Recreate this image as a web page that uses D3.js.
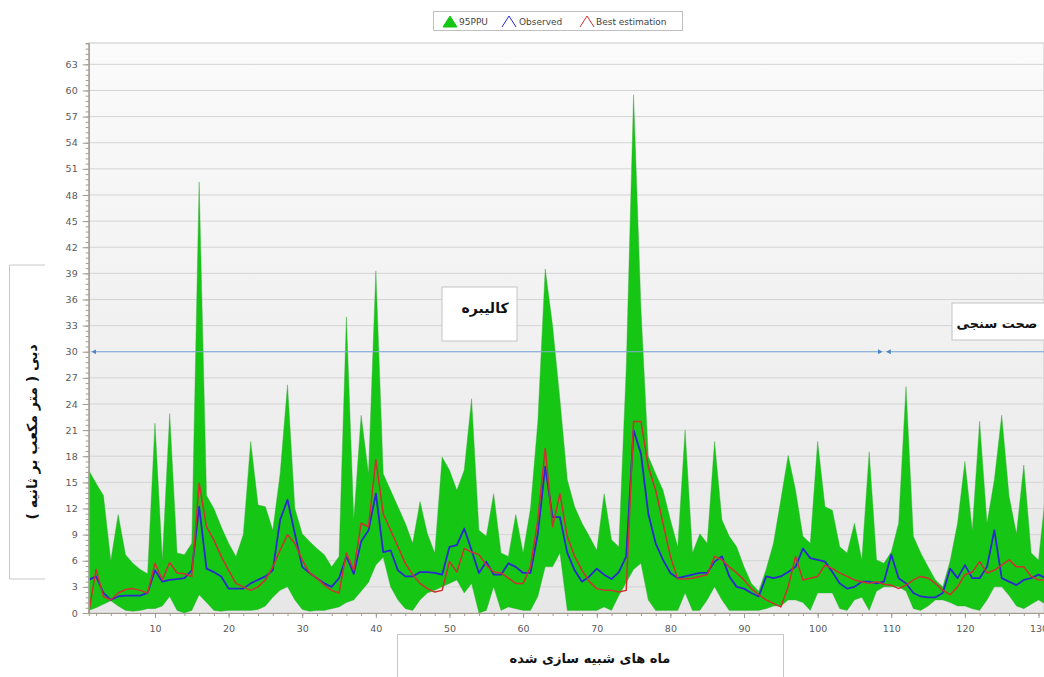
<!DOCTYPE html>
<html>
<head>
<meta charset="utf-8">
<script src="https://cdn.jsdelivr.net/npm/d3@7"></script>
<style>
    body { margin: 0; background: #fff; }
    .tick text { font-family: "DejaVu Sans", sans-serif; font-size: 9.5px; fill: #5a5a5a; }
    .fa { font-family: "DejaVu Sans", sans-serif; font-weight: bold; fill: #111; }
    .legend text { font-family: "DejaVu Sans", sans-serif; font-size: 9px; fill: #444; }
</style>
</head>
<body>
<div id="chart"></div>
<script>
// 95PPU band, upper and lower edge (m3/s), one value per simulated month 1..131
const upper95 = [16.4, 14.9, 13.5, 6, 11.3, 6.7, 5.7, 5, 4.5, 21.8,
    6.1, 22.9, 6.9, 6.7, 8, 49.5, 13.5, 12, 9.9, 8,
    6.5, 9, 19.7, 12.4, 12.2, 9.5, 16, 26.2, 12, 9.1,
    8.2, 7.4, 6.7, 5.3, 6.5, 34, 10.7, 22.7, 16, 39.3,
    16, 14.1, 12.2, 10.3, 8, 12.8, 9.1, 6.9, 17.9, 16.4,
    14.1, 16.4, 24.6, 9.5, 8.8, 13.7, 6.9, 6.5, 11.3, 6.9,
    12, 22, 39.5, 33, 24.5, 15.3, 12.2, 10.3, 8.8, 7.2,
    13.7, 8.4, 7.6, 28, 59.5, 35, 18, 16, 14.1, 10.7,
    7.6, 21, 6.9, 9.1, 8, 19.7, 10.7, 8.8, 7.6, 5.3,
    3.4, 2.5, 5, 8, 13, 18.1, 14.1, 8.8, 8, 19.7,
    12.2, 11.8, 7.6, 6.9, 10.3, 6.1, 18.5, 6.1, 5.7, 7,
    10.3, 26, 8.8, 6.9, 5.3, 3.8, 3, 6, 10.3, 17.4,
    9.5, 22, 10.3, 15.3, 22.7, 13.4, 9.1, 17, 6.9, 6.1,
    14.1];
const lower95 = [0.3, 0.6, 1, 1.4, 0.8, 0.3, 0.2, 0.3, 0.5, 0.5,
    0.8, 1.9, 0.3, 0, 0.3, 2.1, 1.2, 0.3, 0.2, 0.3,
    0.3, 0.3, 0.3, 0.4, 0.8, 1.8, 2.6, 3, 1.5, 0.4,
    0.2, 0.3, 0.3, 0.5, 0.7, 1.2, 1.5, 2.5, 3.5, 5.5,
    6.4, 3, 1.5, 0.5, 0.3, 1.5, 2.3, 2.6, 3, 3.4,
    3.8, 2.3, 3.4, 0, 0.3, 3, 0.3, 0.7, 0.5, 0.3,
    0.3, 1.9, 5.3, 5.3, 6.9, 0.3, 0.3, 0.3, 0.3, 0.3,
    0.7, 0.3, 2, 3.5, 5, 5.7, 1.5, 0.3, 0.3, 0.3,
    0.3, 2.3, 0.3, 0.3, 1.5, 3, 1.5, 0.3, 0.3, 0.3,
    0.3, 0.3, 0.5, 0.8, 0.8, 1.5, 1.5, 1.2, 0.3, 2.3,
    2.3, 2.3, 0.5, 0.3, 1.5, 1.8, 0.3, 2.5, 3, 3,
    3, 2.5, 0.5, 0.3, 0.8, 1.5, 1.5, 1.2, 0.8, 0.8,
    0.5, 0.3, 1.5, 3, 3, 2, 0.8, 0.5, 1, 1.5,
    1];
const observed = [3.8, 4.2, 2.3, 1.5, 1.9, 2, 2, 2, 2.3, 4.9,
    3.6, 3.8, 3.9, 4, 4.9, 12.2, 5.1, 4.7, 4.2, 2.8,
    2.8, 2.8, 3.4, 3.8, 4.2, 4.9, 10.7, 13, 9.1, 5.3,
    4.6, 4, 3.4, 3, 4, 6.5, 4.5, 8.2, 9.5, 13.7,
    7, 7.2, 4.9, 4.2, 4.2, 4.7, 4.7, 4.6, 4.4, 7.6,
    7.8, 9.7, 7.2, 4.6, 5.9, 4.4, 4.4, 5.7, 5.3, 4.6,
    4.6, 9.1, 16.8, 11, 11, 6.9, 4.9, 3.6, 4.2, 5.1,
    4.4, 3.9, 4.7, 6.5, 21, 18.3, 11.4, 8, 6.1, 4.6,
    4, 4.2, 4.4, 4.6, 4.6, 5.9, 6.5, 4.2, 3, 2.8,
    2.3, 1.9, 4.2, 4, 4.2, 4.7, 5.3, 7.4, 6.3, 6.1,
    5.9, 4.7, 3.4, 2.8, 3, 3.6, 3.6, 3.4, 3.6, 6.7,
    4, 3.4, 2.3, 1.9, 1.8, 1.8, 2.3, 5.1, 4, 5.5,
    4, 4, 5.3, 9.5, 4, 3.6, 3.2, 3.8, 4, 4.4,
    4];
const bestEstimation = [0, 5, 1.9, 1.5, 2.3, 2.7, 2.8, 2.6, 2.3, 5.7,
    3.8, 5.8, 4.6, 4.5, 4.2, 14.9, 9.9, 8.4, 6.5, 4.9,
    3.4, 3, 2.6, 3, 3.8, 5.3, 7.2, 9, 8, 6.1,
    4.6, 4, 3.2, 2.6, 2.3, 6.9, 4.9, 10.3, 9.9, 17.6,
    11.4, 9.5, 7.6, 5.7, 4.4, 3.4, 2.8, 2.4, 2.6, 5.9,
    4.7, 7.4, 7, 6.7, 5.5, 4.7, 4.6, 4, 3.4, 3.4,
    5.3, 10.7, 18.9, 9.9, 13.7, 8.8, 6.5, 4.9, 3.6, 2.8,
    2.6, 2.6, 2.4, 2.6, 22, 22, 16.8, 14.1, 10.3, 6.5,
    3.9, 3.9, 4, 4.2, 4.4, 6.5, 6.1, 5.3, 4.6, 3.8,
    2.8, 2.1, 1.5, 1.1, 0.7, 3, 6.5, 3.8, 4, 4.2,
    5.5, 5.1, 4.6, 4.2, 3.8, 3.6, 3.4, 3.6, 3.3, 3.2,
    2.8, 3.2, 3.8, 4.2, 4, 3.4, 2.6, 2.1, 3, 4.4,
    4.7, 5.9, 4.6, 4.9, 5.5, 6.1, 5.3, 5.3, 4.2, 3.8,
    3.8];

const yTickValues = [0, 3, 6, 9, 12, 15, 18, 21, 24, 27, 30, 33, 36, 39, 42, 45, 48, 51, 54, 57, 60, 63];
const xTickValues = [10, 20, 30, 40, 50, 60, 70, 80, 90, 100, 110, 120, 130];
const legendLabels = ["95PPU", "Observed", "Best estimation"];
const legendColors = ["#15c615", "#2a2ad0", "#d03030"];

// split between calibration and validation periods, drawn at 30 m3/s
const periodLevel = 30;
const calibrationEnd = 108.5;
const validationStart = 109.6;

function drawChart() {
    const W = 1044, H = 677;
    const plot = {left: 88.7, top: 43, bottom: 613, right: 1045.9};

    const months = upper95.map((d, i) => i + 1);

    const svg = d3.select('#chart')
        .append('svg')
        .attr('width', W)
        .attr('height', H);

    const defs = svg.append('defs');
    const grad = defs.append('linearGradient')
        .attr('id', 'bg').attr('x1', 0).attr('y1', 0).attr('x2', 0).attr('y2', 1);
    grad.append('stop').attr('offset', '0%').attr('stop-color', '#fbfbfb');
    grad.append('stop').attr('offset', '100%').attr('stop-color', '#e7e7e7');

    defs.append('clipPath').attr('id', 'plotClip')
        .append('rect')
        .attr('x', plot.left).attr('y', plot.top)
        .attr('width', W - plot.left).attr('height', plot.bottom - plot.top);

    // little arrow heads for the period line
    ['arrowStart', 'arrowEnd'].forEach((id, k) => {
        defs.append('marker')
            .attr('id', id)
            .attr('viewBox', '0 0 10 10')
            .attr('refX', 5).attr('refY', 5)
            .attr('markerWidth', 5).attr('markerHeight', 5)
            .attr('orient', k == 0 ? 'auto-start-reverse' : 'auto')
            .append('path')
            .attr('d', 'M0,0 L10,5 L0,10 z')
            .attr('fill', '#4f86c6');
    });

    const xScale = d3.scaleLinear()
        .domain([1, 131])
        .range([plot.left, plot.right]);
    const yScale = d3.scaleLinear()
        .domain([0, 65.45])
        .range([plot.bottom, plot.top]);

    // plot background
    svg.append('rect')
        .attr('x', plot.left).attr('y', plot.top)
        .attr('width', W - plot.left).attr('height', plot.bottom - plot.top)
        .attr('fill', 'url(#bg)')
        .attr('stroke', '#c8c8c8');

    // horizontal grid
    svg.append('g')
        .selectAll('line')
        .data(yTickValues.filter(v => v > 0))
        .join('line')
        .attr('x1', plot.left).attr('x2', W)
        .attr('y1', d => yScale(d)).attr('y2', d => yScale(d))
        .attr('stroke', '#d4d4d4');

    const g = svg.append('g').attr('clip-path', 'url(#plotClip)');

    // 95PPU band
    const band = d3.area()
        .x((d, i) => xScale(months[i]))
        .y0((d, i) => yScale(lower95[i]))
        .y1(d => yScale(d));
    g.append('path')
        .datum(upper95)
        .attr('d', band)
        .attr('fill', legendColors[0])
        .attr('stroke', '#3aa83a')
        .attr('stroke-width', 0.4);

    const line = d3.line()
        .x((d, i) => xScale(months[i]))
        .y(d => yScale(d));

    g.append('path')
        .datum(observed)
        .attr('d', line)
        .attr('fill', 'none')
        .attr('stroke', legendColors[1])
        .attr('stroke-width', 1.8)
        .attr('stroke-linejoin', 'round');

    g.append('path')
        .datum(bestEstimation)
        .attr('d', line)
        .attr('fill', 'none')
        .attr('stroke', legendColors[2])
        .attr('stroke-width', 1.5)
        .attr('stroke-linejoin', 'round');

    // calibration / validation arrows
    function addPeriodLines() {
        g.append('line')
            .attr('x1', xScale(1.7)).attr('x2', xScale(calibrationEnd))
            .attr('y1', yScale(periodLevel)).attr('y2', yScale(periodLevel))
            .attr('stroke', '#7fa9d9').attr('stroke-width', 1)
            .attr('marker-start', 'url(#arrowStart)')
            .attr('marker-end', 'url(#arrowEnd)');
        g.append('line')
            .attr('x1', xScale(validationStart)).attr('x2', xScale(133))
            .attr('y1', yScale(periodLevel)).attr('y2', yScale(periodLevel))
            .attr('stroke', '#7fa9d9').attr('stroke-width', 1)
            .attr('marker-start', 'url(#arrowStart)');
    }
    addPeriodLines();

    // text boxes for the two periods
    function addPeriodBoxes() {
        svg.append('rect')
            .attr('x', 442).attr('y', 287).attr('width', 75).attr('height', 54)
            .attr('fill', '#fff').attr('stroke', '#c4c4c4');
        svg.append('text')
            .attr('class', 'fa')
            .attr('x', 485).attr('y', 313)
            .attr('text-anchor', 'middle')
            .style('font-size', '14px')
            .text('کالیبره');

        svg.append('rect')
            .attr('x', 952).attr('y', 303).attr('width', 100).attr('height', 37)
            .attr('fill', '#fff').attr('stroke', '#c4c4c4');
        svg.append('text')
            .attr('class', 'fa')
            .attr('x', 997).attr('y', 328)
            .attr('text-anchor', 'middle')
            .style('font-size', '13px')
            .text('صحت سنجی');
    }
    addPeriodBoxes();

    // axes
    const yAxis = d3.axisLeft(yScale).tickValues(yTickValues).tickSize(6).tickSizeOuter(0).tickPadding(5);
    const yMinor = d3.axisLeft(yScale).tickValues(d3.range(0, 65.4, 0.6)).tickSize(3).tickFormat('');
    const xAxis = d3.axisBottom(xScale).tickValues(xTickValues).tickSize(5).tickSizeOuter(0).tickPadding(7);
    const xMinor = d3.axisBottom(xScale).tickValues(d3.range(2, 132, 2)).tickSize(3).tickFormat('');

    [yMinor, yAxis].forEach(ax => {
        svg.append('g')
            .attr('transform', `translate(${plot.left},0)`)
            .call(ax)
            .call(s => s.selectAll('line,path').attr('stroke', '#a49a8e'));
    });
    [xMinor, xAxis].forEach(ax => {
        svg.append('g')
            .attr('transform', `translate(0,${plot.bottom})`)
            .call(ax)
            .call(s => s.selectAll('line,path').attr('stroke', '#a49a8e'));
    });
    svg.selectAll('.tick text').attr('fill', '#5a5a5a');

    // axis titles in boxes
    function addAxisTitles() {
        svg.append('path')
            .attr('d', 'M45,265 H9.5 V579 H45')
            .attr('fill', 'none').attr('stroke', '#c8c8c8');
        svg.append('text')
            .attr('class', 'fa')
            .attr('transform', 'translate(37,432) rotate(-90)')
            .attr('text-anchor', 'middle')
            .style('font-size', '14px')
            .text('دبی ( متر مکعب بر ثانیه )');

        svg.append('rect')
            .attr('x', 397.5).attr('y', 634.5).attr('width', 386).attr('height', 60)
            .attr('fill', '#fff').attr('stroke', '#c8c8c8');
        svg.append('text')
            .attr('class', 'fa')
            .attr('x', 590).attr('y', 663)
            .attr('text-anchor', 'middle')
            .style('font-size', '13px')
            .text('ماه های شبیه سازی شده');
    }
    addAxisTitles();

    // legend
    function addLegend() {
        const lg = svg.append('g').attr('class', 'legend');
        lg.append('rect')
            .attr('x', 433.5).attr('y', 11.5).attr('width', 249).attr('height', 19)
            .attr('fill', '#fff').attr('stroke', '#c0c0c0');
        const iconX = [443, 502, 580];
        const textX = [459, 519, 596];
        legendLabels.forEach((label, i) => {
            lg.append('path')
                .attr('d', `M${iconX[i]},27 L${iconX[i] + 7},16 L${iconX[i] + 14},27` + (i == 0 ? ' Z' : ''))
                .attr('fill', i == 0 ? legendColors[0] : 'none')
                .attr('stroke', legendColors[i])
                .attr('stroke-width', 1);
            lg.append('text')
                .attr('x', textX[i]).attr('y', 25)
                .text(label);
        });
    }
    addLegend();
}

window.addEventListener('load', drawChart);
</script>
</body>
</html>
